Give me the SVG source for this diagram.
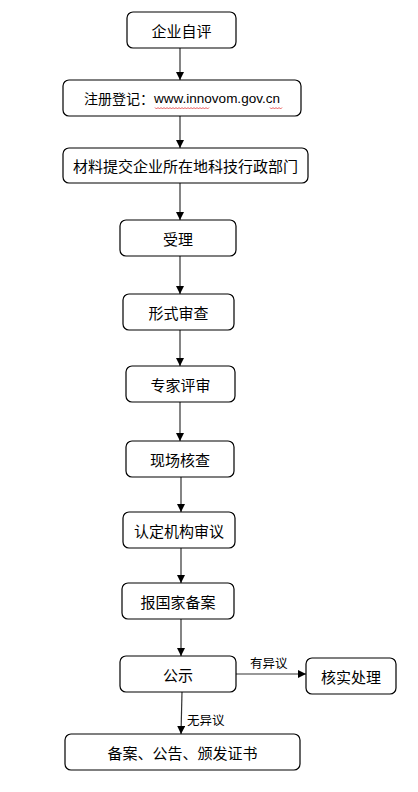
<svg xmlns="http://www.w3.org/2000/svg" width="418" height="792" viewBox="0 0 418 792">
<style>
.box{fill:#fff;stroke:#000;stroke-width:1.2}
.t{font-family:"Noto Sans CJK SC","Liberation Sans",sans-serif;font-size:15px;fill:#000;text-anchor:middle;dominant-baseline:central}
.lbl{font-family:"Noto Sans CJK SC","Liberation Sans",sans-serif;font-size:12.5px;fill:#000}
.c{stroke:#333;stroke-width:1.2;fill:none}
</style>
<defs>
<marker id="ah" viewBox="0 0 10 10" refX="10" refY="5" markerWidth="8" markerHeight="8" markerUnits="userSpaceOnUse" orient="auto">
<path d="M0,0 L10,5 L0,10 Z" fill="#000"/>
</marker>
</defs>
<rect width="418" height="792" fill="#fff"/>
<g id="connectors">
<line class="c" x1="180" y1="48" x2="180" y2="80" marker-end="url(#ah)"/>
<line class="c" x1="180" y1="116" x2="180" y2="148" marker-end="url(#ah)"/>
<line class="c" x1="180" y1="183" x2="180" y2="220" marker-end="url(#ah)"/>
<line class="c" x1="180" y1="256" x2="180" y2="294" marker-end="url(#ah)"/>
<line class="c" x1="180" y1="330" x2="180" y2="366" marker-end="url(#ah)"/>
<line class="c" x1="180" y1="402" x2="180" y2="441" marker-end="url(#ah)"/>
<line class="c" x1="181" y1="477" x2="181" y2="512" marker-end="url(#ah)"/>
<line class="c" x1="181" y1="548" x2="181" y2="583" marker-end="url(#ah)"/>
<line class="c" x1="181" y1="619" x2="181" y2="656" marker-end="url(#ah)"/>
<line class="c" x1="236" y1="674" x2="306" y2="674" marker-end="url(#ah)"/>
<text class="lbl" x="250" y="668">有异议</text>
<line class="c" x1="182" y1="692" x2="181" y2="734" marker-end="url(#ah)"/>
<text class="lbl" x="187" y="725">无异议</text>
</g>
<g id="n1"><rect class="box" x="127" y="12" width="109" height="36" rx="6"/><text class="t" x="181.5" y="30">企业自评</text></g>
<g id="n2"><rect class="box" x="63" y="80" width="238" height="36" rx="6"/><text class="t" x="182" y="98" style="font-size:14px">注册登记：<tspan style="font-family:'Liberation Sans',sans-serif;font-size:13.5px">www.innovom.gov.cn</tspan></text>
<path d="M155,107.5 l1.5,1.5 l1.5,-1.5 l1.5,1.5 l1.5,-1.5 l1.5,1.5 l1.5,-1.5 l1.5,1.5 l1.5,-1.5 l1.5,1.5 l1.5,-1.5 l1.5,1.5 l1.5,-1.5 l1.5,1.5 l1.5,-1.5 l1.5,1.5 l1.5,-1.5 l1.5,1.5 l1.5,-1.5 l1.5,1.5 l1.5,-1.5 l1.5,1.5 l1.5,-1.5 l1.5,1.5 l1.5,-1.5 l1.5,1.5 l1.5,-1.5 l1.5,1.5 l1.5,-1.5 l1.5,1.5 l1.5,-1.5 l1.5,1.5 l1.5,-1.5 l1.5,1.5 l1.5,-1.5 l1.5,1.5 l1.5,-1.5" fill="none" stroke="#e03030" stroke-width="0.8"/>
<path d="M270,107.5 l1.5,1.5 l1.5,-1.5 l1.5,1.5 l1.5,-1.5 l1.5,1.5 l1.5,-1.5 l1.5,1.5 l1.5,-1.5" fill="none" stroke="#e03030" stroke-width="0.8"/></g>
<g id="n3"><rect class="box" x="63" y="148" width="245" height="35" rx="6"/><text class="t" x="185.5" y="165.5">材料提交企业所在地科技行政部门</text></g>
<g id="n4"><rect class="box" x="120" y="220" width="116" height="36" rx="6"/><text class="t" x="178" y="238">受理</text></g>
<g id="n5"><rect class="box" x="123" y="294" width="111" height="36" rx="6"/><text class="t" x="178.5" y="312">形式审查</text></g>
<g id="n6"><rect class="box" x="126" y="366" width="109" height="36" rx="6"/><text class="t" x="180.5" y="384">专家评审</text></g>
<g id="n7"><rect class="box" x="126" y="441" width="108" height="36" rx="6"/><text class="t" x="180" y="459">现场核查</text></g>
<g id="n8"><rect class="box" x="123" y="512" width="112" height="36" rx="6"/><text class="t" x="179" y="530">认定机构审议</text></g>
<g id="n9"><rect class="box" x="122" y="583" width="112" height="36" rx="6"/><text class="t" x="178" y="601">报国家备案</text></g>
<g id="n10"><rect class="box" x="120" y="656" width="116" height="36" rx="6"/><text class="t" x="178" y="674">公示</text></g>
<g id="n11"><rect class="box" x="306" y="658" width="90" height="36" rx="6"/><text class="t" x="351" y="676">核实处理</text></g>
<g id="n12"><rect class="box" x="65" y="734" width="235" height="36" rx="6"/><text class="t" x="182.5" y="752">备案、公告、颁发证书</text></g>
</svg>
